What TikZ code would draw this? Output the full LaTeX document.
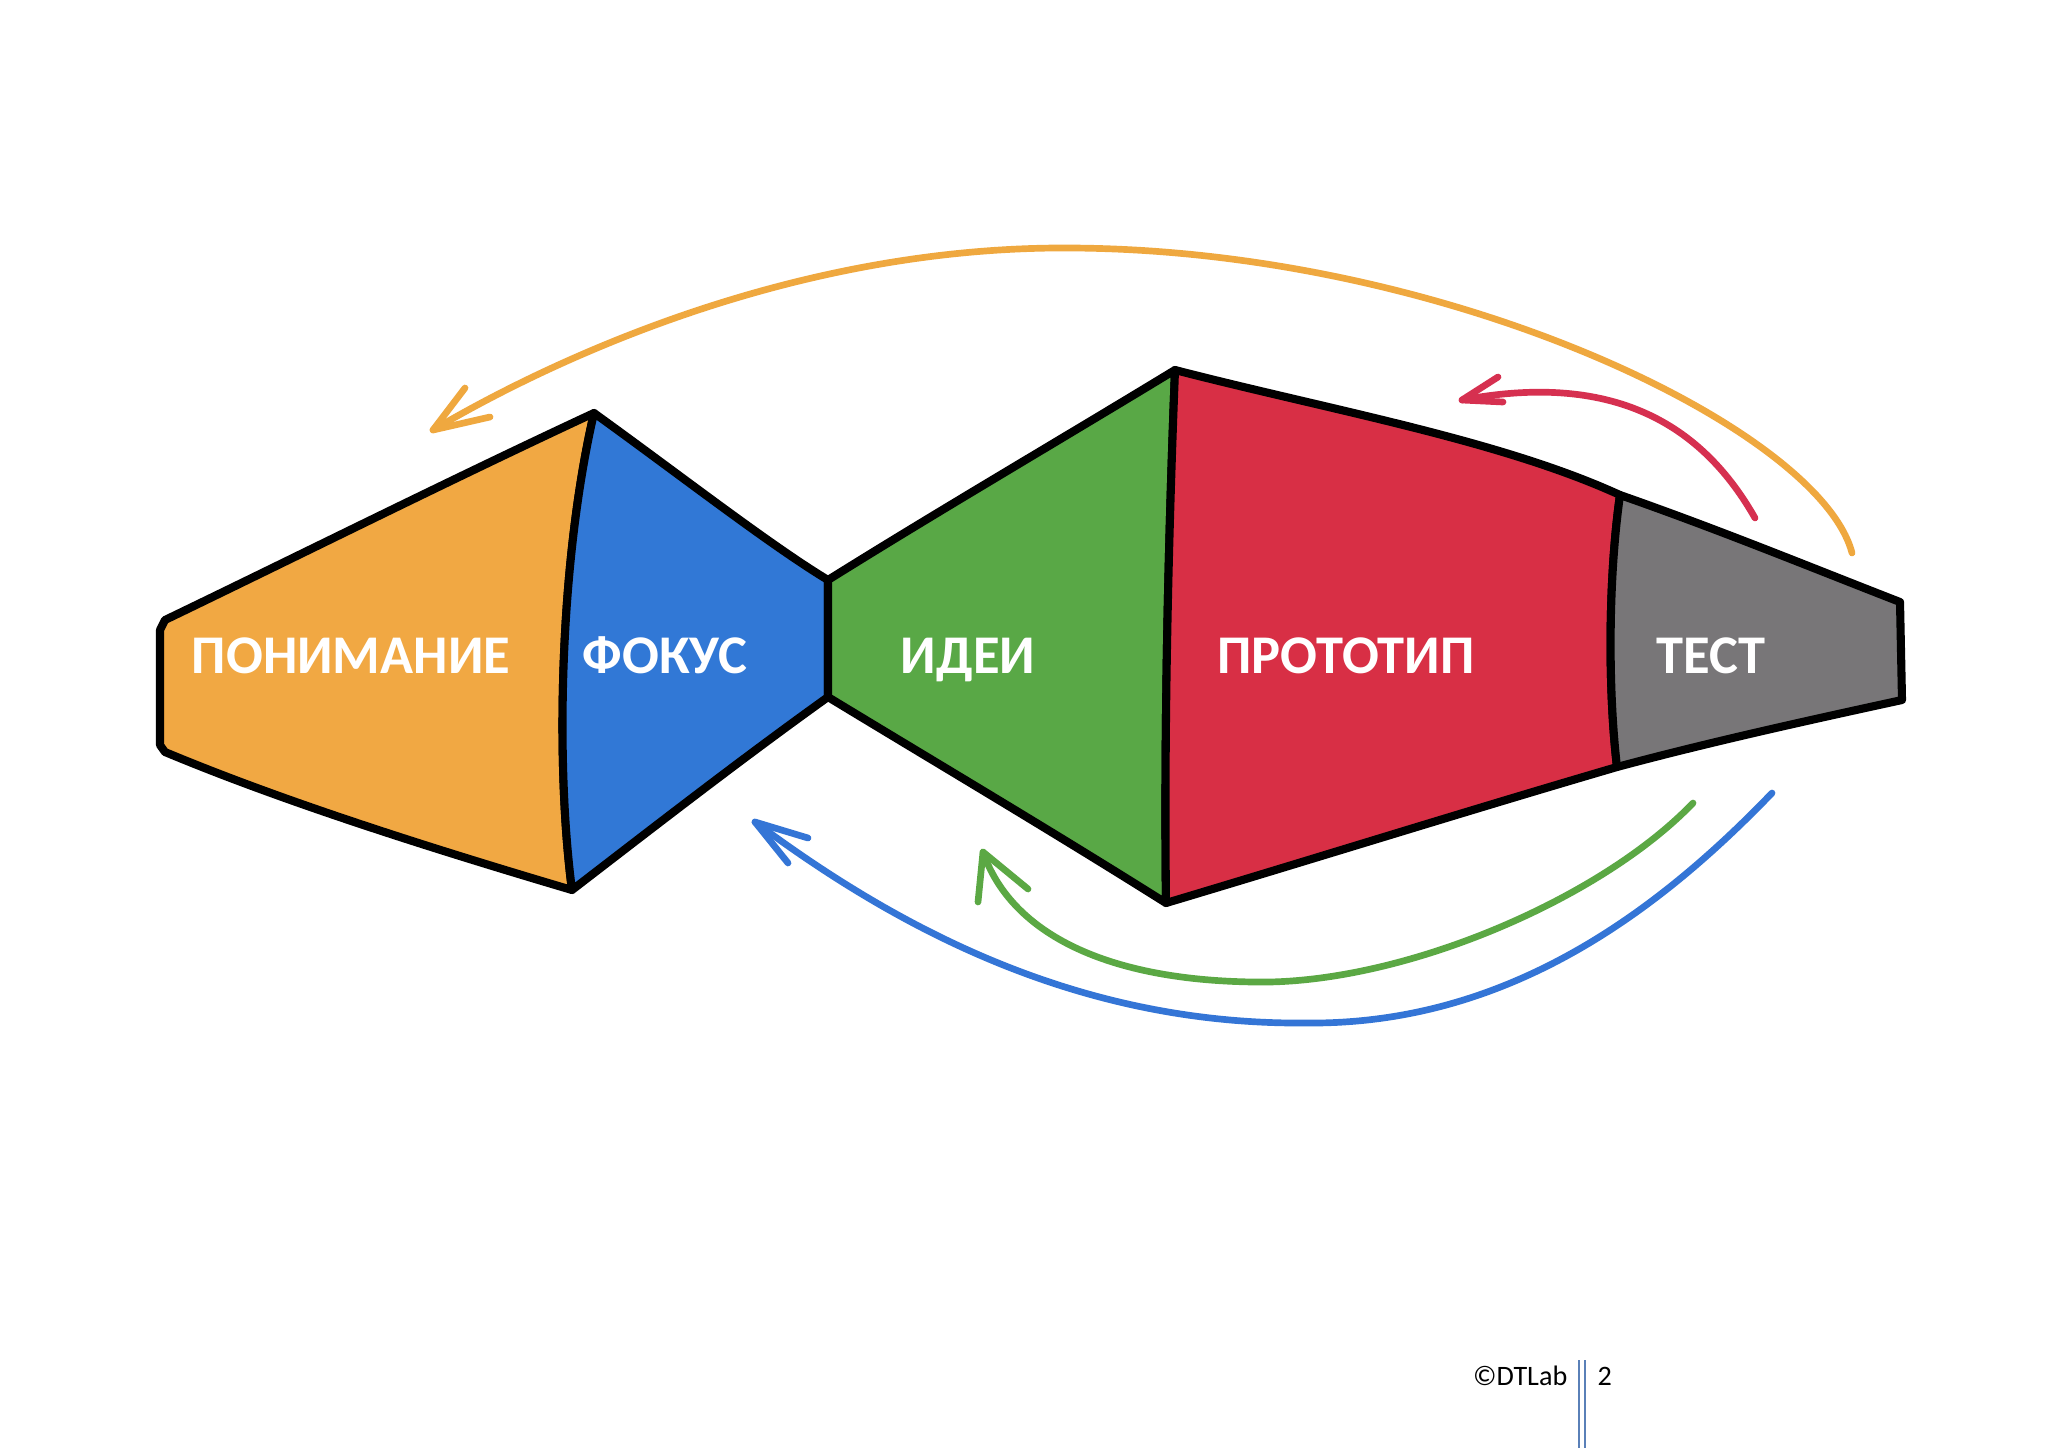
\documentclass[tikz,border=0pt]{standalone}
\usepackage{fontspec}
\setmainfont{Carlito}
\begin{document}
\begin{tikzpicture}[x=0.01cm,y=-0.01cm,
  outline/.style={draw=black,line width=2.3pt,line join=round,line cap=round},
  loop/.style={line width=1.9pt,line cap=round,line join=round},
  lbl/.style={text=white,font=\fontsize{15.5}{18}\selectfont\bfseries,anchor=base,inner sep=0pt},
  foot/.style={font=\fontsize{8}{10}\selectfont,anchor=base,inner sep=0pt}]
\definecolor{cOr}{HTML}{F1A843}
\definecolor{cBl}{HTML}{3178D6}
\definecolor{cGr}{HTML}{59A846}
\definecolor{cRd}{HTML}{D82F45}
\definecolor{cGy}{HTML}{787678}
\definecolor{aOr}{HTML}{EFA83F}
\definecolor{aBl}{HTML}{3475D6}
\definecolor{aGr}{HTML}{5BA844}
\definecolor{aRd}{HTML}{D63050}
\definecolor{fLine}{HTML}{5A80B8}
\useasboundingbox (0,0) rectangle (2048,1448);
\fill[white] (0,0) rectangle (2048,1448);

% shapes
\path[fill=cOr,outline] (165,620) .. controls (300,555) and (450,480) .. (594,413)
  .. controls (560,560) and (555,760) .. (572,890)
  .. controls (420,845) and (280,800) .. (165,752) -- (160,745) -- (160,630) -- cycle;
\path[fill=cBl,outline] (594,413) .. controls (680,475) and (770,545) .. (828,580)
  -- (828,697) .. controls (740,760) and (650,830) .. (572,890)
  .. controls (555,760) and (560,560) .. (594,413) -- cycle;
\path[fill=cGr,outline] (828,580) .. controls (940,510) and (1060,440) .. (1175,370)
  .. controls (1168,550) and (1164,730) .. (1166,903)
  .. controls (1050,830) and (940,765) .. (828,697) -- cycle;
\path[fill=cRd,outline] (1175,370) .. controls (1330,410) and (1500,440) .. (1620,495)
  .. controls (1608,580) and (1608,690) .. (1617,767)
  .. controls (1470,810) and (1310,860) .. (1166,903)
  .. controls (1164,730) and (1168,550) .. (1175,370) -- cycle;
\path[fill=cGy,outline] (1620,495) .. controls (1720,530) and (1810,567) .. (1900,602)
  -- (1902,700) .. controls (1810,720) and (1710,742) .. (1617,767)
  .. controls (1608,690) and (1608,580) .. (1620,495) -- cycle;

% labels
\node[lbl] (t1) at (351,673) {ПОНИМАНИЕ};
\node[lbl] (t2) at (665,673) {ФОКУС};
\node[lbl] (t3) at (968,673) {ИДЕИ};
\node[lbl] (t4) at (1346,673) {ПРОТОТИП};
\node[lbl] (t5) at (1711,673) {ТЕСТ};

% loop arrows: coordinates
\coordinate (oS) at (1852,553);
\coordinate (oM) at (1071,248);
\coordinate (oT) at (433,430);
\coordinate (oB1) at (465,388);
\coordinate (oB2) at (490,417);
\coordinate (rS) at (1755,518);
\coordinate (rT) at (1462,400);
\coordinate (rB1) at (1498,377);
\coordinate (rB2) at (1503,402);
\coordinate (gS) at (1693,803);
\coordinate (gM) at (1254,982);
\coordinate (gT) at (983,852);
\coordinate (gB1) at (978,902);
\coordinate (gB2) at (1028,889);
\coordinate (bS) at (1772,793);
\coordinate (bM) at (1306,1023);
\coordinate (bT) at (755,822);
\coordinate (bB1) at (788,863);
\coordinate (bB2) at (808,838);

\draw[loop,aOr] (oS) .. controls (1820,430) and (1450,250) .. (oM)
  .. controls (800,246) and (560,355) .. (oT);
\draw[loop,aOr] (oB1) -- (oT) -- (oB2);
\draw[loop,aRd] (rS) .. controls (1705,430) and (1620,370) .. (rT);
\draw[loop,aRd] (rB1) -- (rT) -- (rB2);
\draw[loop,aGr] (gS) .. controls (1600,900) and (1400,985) .. (gM)
  .. controls (1100,980) and (1010,930) .. (gT);
\draw[loop,aGr] (gB1) -- (gT) -- (gB2);
\draw[loop,aBl] (bS) .. controls (1650,920) and (1500,1025) .. (bM)
  .. controls (1080,1025) and (900,930) .. (bT);
\draw[loop,aBl] (bB1) -- (bT) -- (bB2);

% footer
\node[foot,anchor=base east] (copy) at (1568,1385) {©DTLab};
\node[foot,anchor=base west] (pg) at (1597,1385) {2};
\coordinate (fl1t) at (1579,1360);
\coordinate (fl1b) at (1579,1448);
\coordinate (fl2t) at (1585,1360);
\coordinate (fl2b) at (1585,1448);
\draw[fLine,line width=0.6pt] (fl1t) -- (fl1b);
\draw[fLine,line width=0.6pt] (fl2t) -- (fl2b);
\end{tikzpicture}
\end{document}
